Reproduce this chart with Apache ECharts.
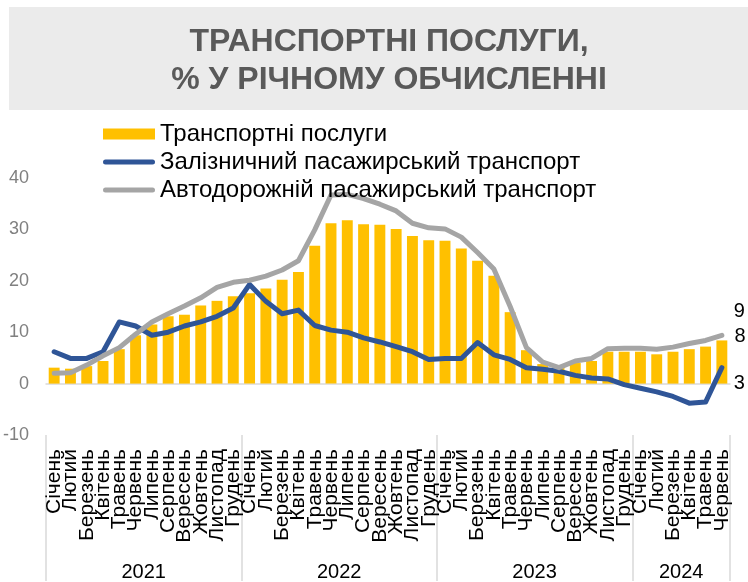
<!DOCTYPE html>
<html>
<head>
<meta charset="utf-8">
<script src="https://cdn.jsdelivr.net/npm/echarts@6/dist/echarts.min.js"></script>
<style>
  html, body { margin: 0; padding: 0; background: #ffffff; }
  #chart { width: 748px; height: 582px; }
</style>
</head>
<body>
<div id="chart"></div>
<script>
// Month names and years for the two-level category axis
const monthNames = ['Січень', 'Лютий', 'Березень', 'Квітень', 'Травень', 'Червень',
  'Липень', 'Серпень', 'Вересень', 'Жовтень', 'Листопад', 'Грудень'];
const years = ['2021', '2022', '2023', '2024'];
const monthsPerYear = [12, 12, 12, 6];

// Year-on-year change, %
const transportServices = [
  3.1, 2.9, 3.4, 4.4, 6.7, 9.4, 11.5, 13.1, 13.4, 15.2, 16.1, 17.0,
  17.6, 18.5, 20.2, 21.7, 26.8, 31.2, 31.8, 31.0, 30.9, 30.1, 28.7, 27.9,
  27.8, 26.3, 23.9, 21.0, 13.9, 6.5, 3.8, 3.1, 4.0, 4.4, 6.2, 6.2,
  6.2, 5.7, 6.2, 6.7, 7.2, 8.4
];
const railPassenger = [
  6.2, 4.9, 4.9, 6.2, 12.0, 11.2, 9.4, 10.0, 11.2, 12.0, 13.1, 14.7,
  19.3, 16.0, 13.6, 14.3, 11.3, 10.4, 10.0, 8.9, 8.1, 7.2, 6.2, 4.7,
  4.9, 4.9, 8.0, 5.6, 4.7, 3.1, 2.8, 2.4, 1.6, 1.1, 0.9, -0.2,
  -0.9, -1.6, -2.5, -3.8, -3.6, 3.1
];
const roadPassenger = [
  2.0, 2.1, 3.6, 5.4, 7.0, 9.6, 12.0, 13.6, 15.1, 16.7, 18.7, 19.7,
  20.1, 20.9, 22.1, 23.9, 29.9, 36.7, 36.8, 36.0, 34.9, 33.6, 31.2, 30.3,
  30.1, 28.5, 25.5, 22.3, 15.0, 7.0, 4.2, 3.1, 4.4, 4.9, 6.8, 6.9,
  6.9, 6.7, 7.1, 7.8, 8.4, 9.4
];

const seriesNames = ['Транспортні послуги', 'Залізничний пасажирський транспорт', 'Автодорожній пасажирський транспорт'];
const titleText = 'ТРАНСПОРТНІ ПОСЛУГИ,\n% У РІЧНОМУ ОБЧИСЛЕННІ';

// Build the month categories and the year centres
const categories = [];
const yearCentres = {};
let start = 0;
years.forEach((y, i) => {
  for (let m = 0; m < monthsPerYear[i]; m++) categories.push(monthNames[m]);
  yearCentres[start + monthsPerYear[i] / 2] = y;
  start += monthsPerYear[i];
});
const total = categories.length;
const FONT = '"Liberation Sans", Arial, sans-serif';

const valueText = {
  show: true,
  formatter: p => String(Math.round(Array.isArray(p.value) ? p.value[p.value.length - 1] : p.value)),
  fontSize: 20,
  color: '#000000',
  fontFamily: FONT
};

// Bar value label on the last month only
const barData = transportServices.map((v, i) => i === total - 1
  ? { value: v, label: Object.assign({}, valueText, { position: [18, -4], align: 'left', verticalAlign: 'middle' }) }
  : v);

const lineIcon = 'path://M2.5,0H49.5A2.5,2.5,0,0,1,49.5,5H2.5A2.5,2.5,0,0,1,2.5,0Z';

const chart = echarts.init(document.getElementById('chart'), null, { renderer: 'canvas' });
chart.setOption({
  animation: false,
  backgroundColor: '#ffffff',
  graphic: [{
    type: 'rect', left: 9, top: 7, z: -10,
    shape: { width: 739, height: 103 },
    style: { fill: '#ebebeb' }
  }],
  title: {
    text: titleText,
    left: 384, top: 18, textAlign: 'center',
    textStyle: { fontSize: 32, fontWeight: 'bold', color: '#595959', lineHeight: 38, fontFamily: FONT }
  },
  legend: {
    orient: 'vertical', left: 103, top: 122, padding: 0,
    itemWidth: 52, itemHeight: 11, itemGap: 4,
    textStyle: { fontSize: 24, lineHeight: 24, color: '#000000', fontFamily: FONT },
    data: [
      { name: seriesNames[0], icon: 'rect' },
      { name: seriesNames[1], icon: lineIcon },
      { name: seriesNames[2], icon: lineIcon }
    ]
  },
  grid: { left: 45, right: 18, top: 178, bottom: 146 },
  xAxis: [
    {
      type: 'category', data: categories, boundaryGap: true,
      axisLine: { show: true, onZero: true, lineStyle: { color: '#d9d9d9', width: 1.5 } },
      axisTick: { show: false }, axisLabel: { show: false }, splitLine: { show: false }
    },
    {
      type: 'category', data: categories, position: 'bottom', boundaryGap: true,
      axisLine: { show: false, onZero: false }, axisTick: { show: false },
      axisLabel: { interval: 0, rotate: 90, margin: 14, fontSize: 21, color: '#000000', fontFamily: FONT, hideOverlap: false }
    },
    {
      // year separators
      type: 'value', min: 0, max: total, interval: 12, position: 'bottom',
      axisLine: { show: false, onZero: false },
      axisTick: { show: true, length: 146, lineStyle: { color: '#d9d9d9', width: 1.5 } },
      axisLabel: { show: false }, splitLine: { show: false }
    },
    {
      // year labels
      type: 'value', min: 0, max: total, interval: 3, position: 'bottom',
      axisLine: { show: false, onZero: false }, axisTick: { show: false }, splitLine: { show: false },
      axisLabel: {
        show: true, margin: 127, fontSize: 20, color: '#000000', fontFamily: FONT,
        showMinLabel: true, showMaxLabel: true, hideOverlap: false,
        formatter: v => yearCentres[v] || ''
      }
    }
  ],
  yAxis: {
    type: 'value', min: -10, max: 40, interval: 10,
    axisLine: { show: false }, axisTick: { show: false }, splitLine: { show: false },
    axisLabel: { margin: 17, fontSize: 18, color: '#808080', fontFamily: FONT }
  },
  series: [
    {
      name: seriesNames[0], type: 'bar', barCategoryGap: '33%',
      itemStyle: { color: '#ffc000' },
      data: barData
    },
    {
      name: seriesNames[1], type: 'line', symbol: 'none',
      lineStyle: { color: '#2f5597', width: 5, join: 'round', cap: 'round' },
      itemStyle: { color: '#2f5597' },
      endLabel: Object.assign({}, valueText, { offset: [4, 16] }),
      data: railPassenger
    },
    {
      name: seriesNames[2], type: 'line', symbol: 'none',
      lineStyle: { color: '#a5a5a5', width: 5, join: 'round', cap: 'round' },
      itemStyle: { color: '#a5a5a5' },
      endLabel: Object.assign({}, valueText, { offset: [4, -24] }),
      data: roadPassenger
    }
  ]
});
</script>
</body>
</html>
